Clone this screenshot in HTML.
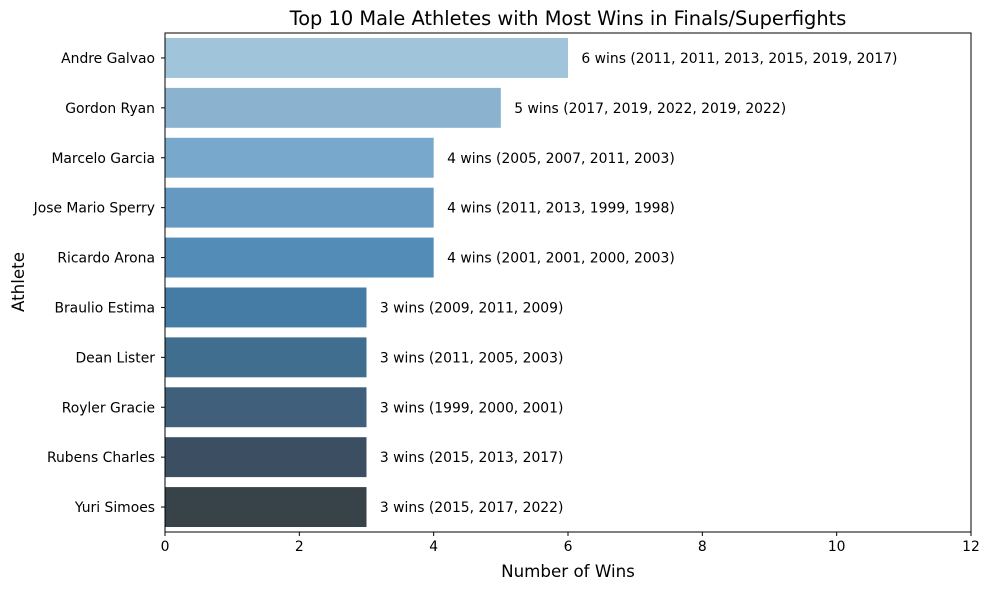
<!DOCTYPE html>
<html><head><meta charset="utf-8"><style>
body{margin:0;background:#fff;font-family:"DejaVu Sans","Liberation Sans",sans-serif}
</style></head><body>
<svg id="chart" width="989" height="590" xmlns="http://www.w3.org/2000/svg" font-family="DejaVu Sans, Liberation Sans, sans-serif">
<text x="568" y="25" text-anchor="middle" font-size="19.4">Top 10 Male Athletes with Most Wins in Finals/Superfights</text>
<g id="bars"></g>
<g id="axes"></g>
<rect x="165" y="33" width="806" height="499" fill="none" stroke="#000" stroke-width="1"/>
<text x="568" y="577" text-anchor="middle" font-size="16.7">Number of Wins</text>
<text transform="translate(24,282) rotate(-90)" text-anchor="middle" font-size="16.7">Athlete</text>
</svg>
<script>
const athletes=["Andre Galvao","Gordon Ryan","Marcelo Garcia","Jose Mario Sperry","Ricardo Arona","Braulio Estima","Dean Lister","Royler Gracie","Rubens Charles","Yuri Simoes"];
const wins=[6,5,4,4,4,3,3,3,3,3];
const years=["2011, 2011, 2013, 2015, 2019, 2017","2017, 2019, 2022, 2019, 2022","2005, 2007, 2011, 2003","2011, 2013, 1999, 1998","2001, 2001, 2000, 2003","2009, 2011, 2009","2011, 2005, 2003","1999, 2000, 2001","2015, 2013, 2017","2015, 2017, 2022"];
const xTicks=[0,2,4,6,8,10,12];
const colors=["#a0c4d9","#8bb3cf","#78a8cb","#6699c1","#528cb7","#447ca6","#406e8f","#3f5f7a","#3c4f62","#374249"];
const NS="http://www.w3.org/2000/svg";
const L=165,R=971,T=33,B=532;
const x=v=>L+(v-0)/(12-0)*(R-L);
const band=(B-T)/athletes.length;
const yc=i=>T+band*(i+0.5);
const bars=document.getElementById('bars'),axes=document.getElementById('axes');
function mk(tag,attrs,parent){const e=document.createElementNS(NS,tag);for(const k in attrs)e.setAttribute(k,attrs[k]);parent.appendChild(e);return e;}
athletes.forEach((a,i)=>{
  const h=band*0.8;
  const r=mk('rect',{x:x(0),y:yc(i)-h/2,width:x(wins[i])-x(0),height:h,fill:colors[i]},bars);
  
  
  const t=mk('text',{x:x(wins[i]+0.2),y:yc(i)+5,'font-size':13.9},bars);
  t.textContent=wins[i]+' wins ('+years[i]+')';
  
  
  mk('line',{x1:L-4,x2:L,y1:yc(i),y2:yc(i),stroke:'#000'},axes);
  const yl=mk('text',{x:L-10,y:yc(i)+5,'font-size':13.9,'text-anchor':'end'},axes);
  yl.textContent=a;
  
  
});
xTicks.forEach(v=>{
  mk('line',{x1:x(v),x2:x(v),y1:B,y2:B+4,stroke:'#000'},axes);
  const t=mk('text',{x:x(v),y:B+19,'font-size':13.9,'text-anchor':'middle'},axes);
  t.textContent=v;
  
  
});
</script>
</body></html>
